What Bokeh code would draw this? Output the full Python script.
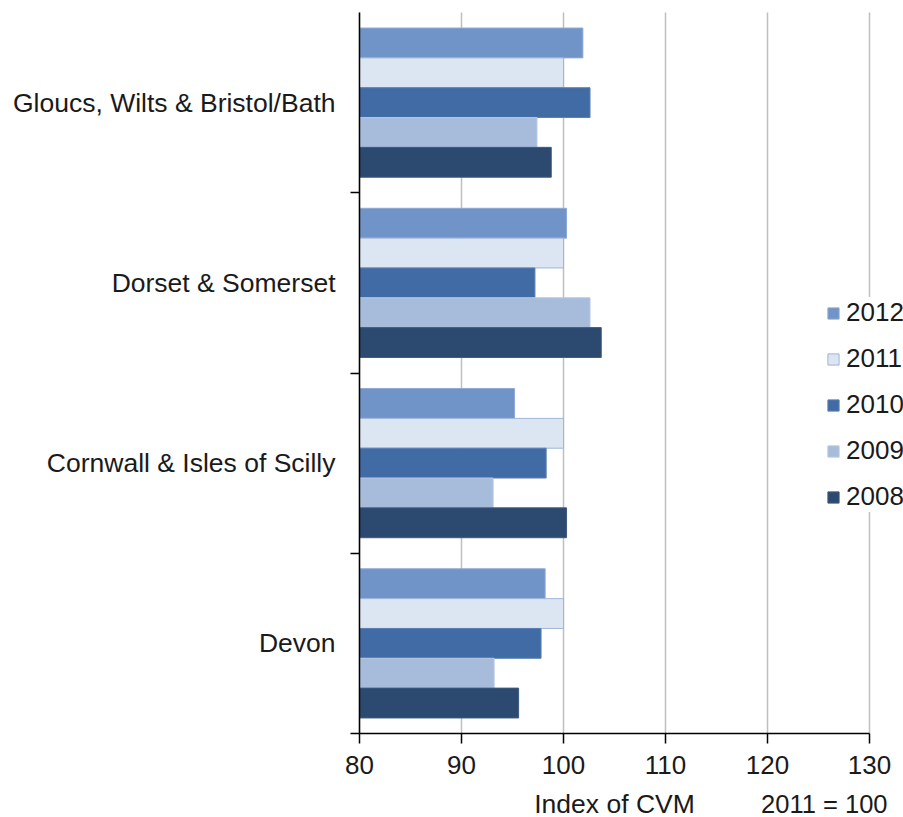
from bokeh.plotting import figure
from bokeh.models import (ColumnDataSource, Range1d, FixedTicker, Legend, LegendItem,
                          Label, BoxAnnotation)
from bokeh.embed import file_html
from bokeh.resources import INLINE

# Regions, listed top to bottom as they appear on the chart
regions = ["Gloucs, Wilts & Bristol/Bath", "Dorset & Somerset",
           "Cornwall & Isles of Scilly", "Devon"]

# Index of CVM (2011 = 100) per region, one list per year
years = ["2012", "2011", "2010", "2009", "2008"]
v2012 = [101.9, 100.3, 95.2, 98.2]
v2011 = [100.0, 100.0, 100.0, 100.0]
v2010 = [102.6, 97.2, 98.3, 97.8]
v2009 = [97.4, 102.6, 93.1, 93.2]
v2008 = [98.8, 103.7, 100.3, 95.6]
series = [v2012, v2011, v2010, v2009, v2008]

x_ticks = [80, 90, 100, 110, 120, 130]
x_title = "Index of CVM"
base_note = "2011 = 100"

fills = ["#7094c8", "#dce5f2", "#416ba4", "#a7bbdb", "#2c4970"]
edges = ["#8ea9d4", "#9fb5da", "#5a80b4", "#b8c8e2", "#3e5a80"]

FONT = "Liberation Sans"
TEXT = "#1a1a1a"

n = len(regions)
bar_h = 0.1655

# pixel geometry: the frame fills the page, the axes are pinned inside it
W, H = 903, 817
AX_LEFT, AX_TOP, AX_BOTTOM = 359, 12, 733
PX_X = 10.2                              # px per index point (80..130 spans 510 px)
PX_Y = (AX_BOTTOM - AX_TOP) / n          # px per region band
x_lo = x_ticks[0] - AX_LEFT / PX_X
x_hi = x_lo + W / PX_X
y_lo = -(H - AX_BOTTOM) / PX_Y
y_hi = n + AX_TOP / PX_Y

p = figure(frame_width=W, frame_height=H,
           min_border=0,
           x_range=Range1d(x_lo, x_hi), y_range=Range1d(y_lo, y_hi),
           output_backend="svg", toolbar_location=None,
           background_fill_color="white", border_fill_color="white")
p.outline_line_color = None

renderers = []
for j, (yr, vals) in enumerate(zip(years, series)):
    # region i sits in band [n-1-i, n-i]; the year bars stack downwards in each band
    ys = [(n - 1 - i) + 0.5 + (2 - j) * bar_h for i in range(n)]
    src = ColumnDataSource(dict(y=ys, right=vals, left=[x_ticks[0]] * n))
    r = p.hbar(y="y", left="left", right="right", height=bar_h, source=src,
               fill_color=fills[j], line_color=edges[j], line_width=1)
    renderers.append((yr, r))

# x axis, pinned to the bottom of the region bands
xa = p.xaxis[0]
xa.fixed_location = 0
xa.bounds = (x_ticks[0], x_ticks[-1])
xa.ticker = FixedTicker(ticks=x_ticks)
xa.axis_line_color = "black"
xa.axis_line_width = 1.5
xa.major_tick_line_color = "black"
xa.major_tick_line_width = 1.5
xa.major_tick_in = 0
xa.major_tick_out = 10
xa.minor_tick_line_color = None
xa.major_label_text_font = FONT
xa.major_label_text_font_size = "26px"
xa.major_label_text_color = TEXT
xa.major_label_standoff = 12

# y axis at x = 80: labels centred in each band, small ticks on the band boundaries
ya = p.yaxis[0]
ya.fixed_location = x_ticks[0]
ya.bounds = (0, n)
centers = [n - 1 - i + 0.5 for i in range(n)]
ya.ticker = FixedTicker(ticks=centers, minor_ticks=list(range(n)))
ya.major_label_overrides = {c: name for c, name in zip(centers, regions)}
ya.axis_line_color = "black"
ya.axis_line_width = 1.5
ya.major_tick_line_color = None
ya.major_tick_in = 0
ya.major_tick_out = 0
ya.minor_tick_line_color = "black"
ya.minor_tick_line_width = 1.5
ya.minor_tick_in = 0
ya.minor_tick_out = 9
ya.major_label_text_font = FONT
ya.major_label_text_font_size = "26.5px"
ya.major_label_text_color = TEXT
ya.major_label_standoff = 15

p.ygrid.grid_line_color = None
xg = p.xgrid[0]
xg.grid_line_color = "#bfbfbf"
xg.grid_line_width = 1.5
if "cross_bounds" in xg.properties():
    xg.cross_bounds = (0, n)
else:
    # keep the grid lines out of the area under the axis
    p.add_layout(BoxAnnotation(top=0, fill_color="white", fill_alpha=1.0,
                               line_color=None, level="glyph"))

# axis title and base-year note, on one line under the tick labels
title_mid = -(803 - AX_BOTTOM) / PX_Y
p.add_layout(Label(x=(x_ticks[0] + x_ticks[-1]) / 2, y=title_mid,
                   text=x_title, text_font=FONT, text_font_size="26.5px",
                   text_color=TEXT, text_align="center", text_baseline="middle"))
p.add_layout(Label(x=x_ticks[0] + (887 - AX_LEFT) / PX_X, y=title_mid,
                   text=base_note, text_font=FONT, text_font_size="25.5px",
                   text_color=TEXT, text_align="right", text_baseline="middle"))

legend = Legend(items=[LegendItem(label=yr, renderers=[r]) for yr, r in renderers],
                location=(826, 305), orientation="vertical")
legend.glyph_width = 14
legend.glyph_height = 14
legend.label_text_font = FONT
legend.label_text_font_size = "26px"
legend.label_text_color = TEXT
legend.label_standoff = 6
legend.label_height = 20
legend.spacing = 15
legend.padding = 10
legend.margin = 0
legend.border_line_color = None
legend.background_fill_color = "white"
legend.background_fill_alpha = 1.0
p.add_layout(legend, "center")

open("out.html", "w").write(file_html(p, INLINE))
